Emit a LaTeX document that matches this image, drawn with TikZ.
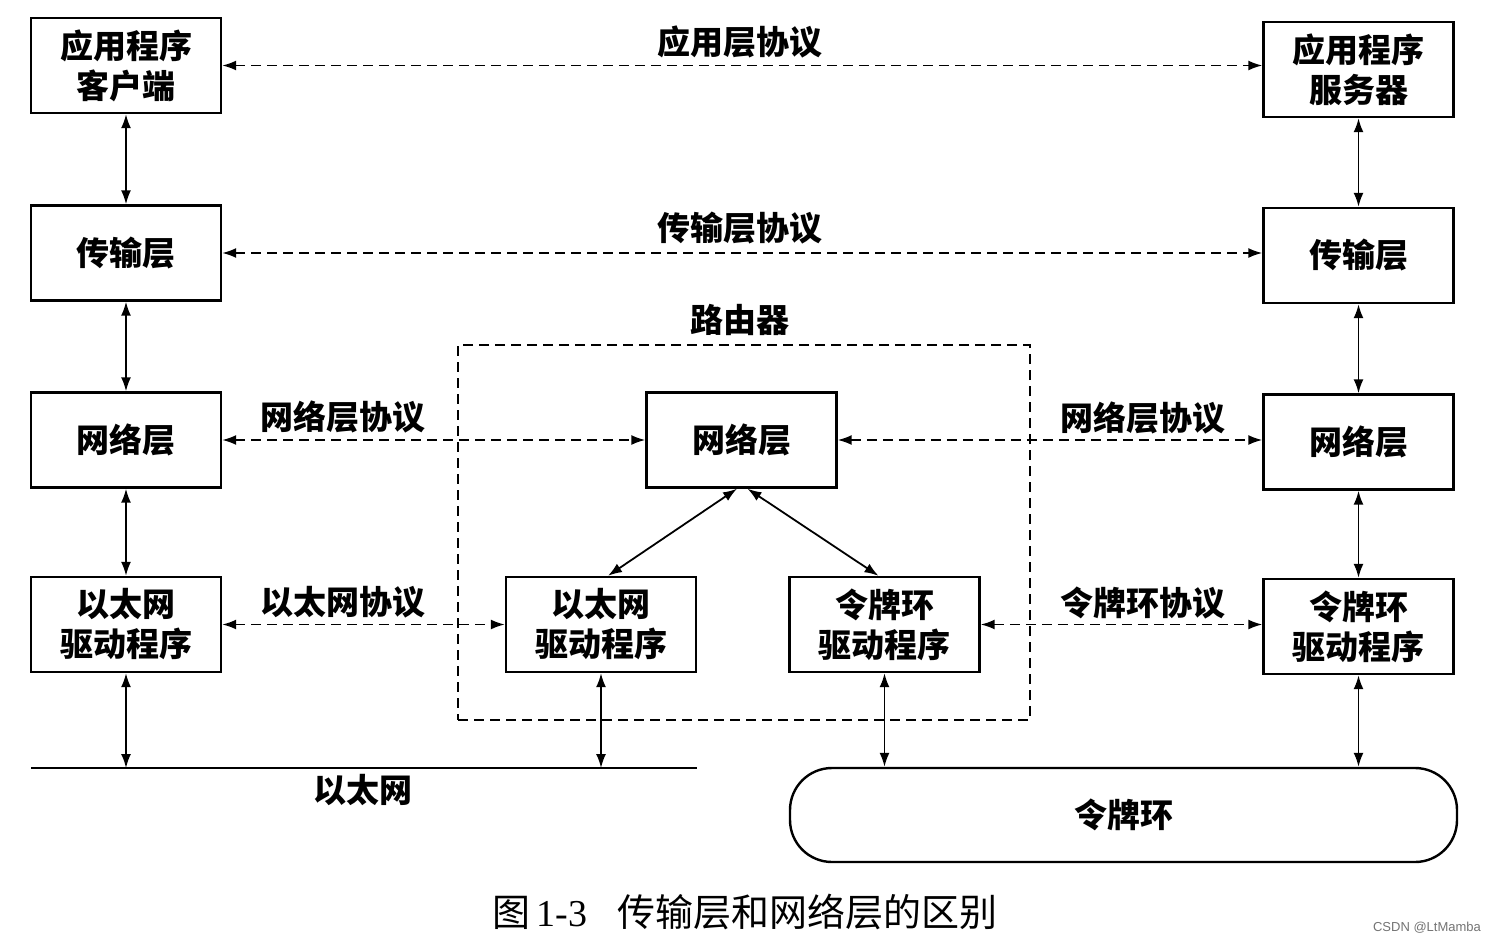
\documentclass[tikz,border=0pt]{standalone}
\usepackage{fontspec}
\setmainfont{Liberation Serif}
\newfontfamily\cjk{Noto Sans CJK SC}
\newfontfamily\wm{Liberation Sans}
\usetikzlibrary{arrows.meta}
\begin{document}
\begin{tikzpicture}[x=0.5pt,y=-0.5pt,
  box/.style={draw,line width=1.2pt,minimum width=95pt,minimum height=47.5pt,inner sep=0pt,align=center,
    font=\cjk\bfseries\fontsize{16.5}{20}\selectfont},
  lbl/.style={font=\cjk\bfseries\fontsize{16.5}{18}\selectfont,inner sep=0pt},
  proto/.style={line width=0.9pt,dash pattern=on 5pt off 3pt,{Latex[length=7pt,width=5pt]}-{Latex[length=7pt,width=5pt]}},
  link/.style={line width=0.9pt,{Latex[length=7pt,width=5pt]}-{Latex[length=7pt,width=5pt]}},
  routerbox/.style={draw,line width=0.9pt,dash pattern=on 5pt off 3pt,minimum width=286pt,minimum height=187.5pt,inner sep=0pt}
]
\useasboundingbox (0,0) rectangle (1493,942);

% layer boxes
\node[box] (ca) at (126,65.5) {应用程序\\客户端};
\node[box] (sa) at (1358.5,69.5) {应用程序\\服务器};
\node[box] (ct) at (126,253) {传输层};
\node[box] (st) at (1358.5,255.5) {传输层};
\node[box] (cn) at (126,440) {网络层};
\node[box] (rn) at (741.5,440) {网络层};
\node[box] (sn) at (1358.5,442) {网络层};
\node[box] (ce) at (126,624.5) {以太网\\驱动程序};
\node[box] (re) at (601,624.5) {以太网\\驱动程序};
\node[box] (rt) at (884.5,624.5) {令牌环\\驱动程序};
\node[box] (stk) at (1358.5,626.5) {令牌环\\驱动程序};

% router frame
\node[routerbox] (router) at (744,532.5) {};
\node[lbl] (routerlbl) at (740,320) {路由器};

% ethernet bus
\coordinate (e1) at (31,768);
\coordinate (e2) at (697,768);
\draw[line width=1.4pt] (e1) -- (e2);
\node[lbl] (ethlbl) at (363,790) {以太网};

% token ring
\node[draw,line width=1.2pt,rounded corners=21pt,minimum width=333.5pt,minimum height=47pt,inner sep=0pt,
  font=\cjk\bfseries\fontsize{16.5}{18}\selectfont] (ring) at (1123.5,815) {令牌环};

% peer protocols
\draw[proto] (ca.east) -- (ca.east -| sa.west);
\node[lbl] (p1) at (740,42) {应用层协议};
\draw[proto] (ct.east) -- (ct.east -| st.west);
\node[lbl] (p2) at (740,228) {传输层协议};
\draw[proto] (cn.east) -- (rn.west);
\node[lbl] (p3) at (343,417) {网络层协议};
\draw[proto] (rn.east) -- (rn.east -| sn.west);
\node[lbl] (p4) at (1143,418) {网络层协议};
\draw[proto] (ce.east) -- (re.west);
\node[lbl] (p5) at (343,602) {以太网协议};
\draw[proto] (rt.east) -- (rt.east -| stk.west);
\node[lbl] (p6) at (1143,603) {令牌环协议};

% vertical links
\draw[link] (ca.south) -- (ct.north);
\draw[link] (ct.south) -- (cn.north);
\draw[link] (cn.south) -- (ce.north);
\draw[link] (ce.south) -- (ce.south |- e1);
\draw[link] (sa.south) -- (st.north);
\draw[link] (st.south) -- (sn.north);
\draw[link] (sn.south) -- (stk.north);
\draw[link] (stk.south) -- (stk.south |- ring.north);
\draw[link] (re.south) -- (re.south |- e1);
\draw[link] (rt.south) -- (rt.south |- ring.north);
\draw[link] ([xshift=-2.25pt]rn.south) -- ([xshift=3.5pt]re.north);
\draw[link] ([xshift=3pt]rn.south) -- ([xshift=-3pt]rt.north);

% caption and watermark
\node[inner sep=0pt,font=\fontsize{19}{21}\selectfont] (cap) at (745,912)
  {{\cjk 图}\,1-3\hspace{15pt}{\cjk 传输层和网络层的区别}};
\node[inner sep=0pt,font=\wm\fontsize{6.5}{8}\selectfont,text=black!55] (wmark) at (1427,928) {CSDN @LtMamba};
\end{tikzpicture}
\end{document}
